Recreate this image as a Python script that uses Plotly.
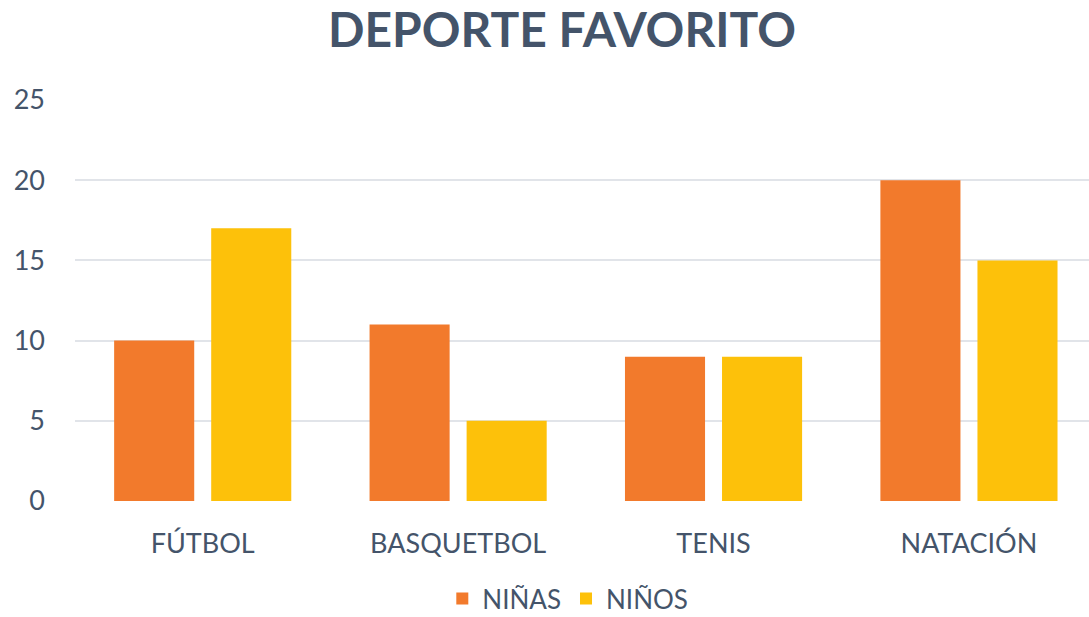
import plotly.graph_objects as go

categories = ["FÚTBOL", "BASQUETBOL", "TENIS", "NATACIÓN"]
ninas = [10, 11, 9, 20]
ninos = [17, 5, 9, 15]
y_ticks = [0, 5, 10, 15, 20, 25]

TXT = "#44546A"
FONT = "Lato, 'Open Sans', sans-serif"

fig = go.Figure()
fig.add_trace(go.Bar(name="NIÑAS", x=categories, y=ninas,
                     marker=dict(color="#F27A2C", line=dict(width=0))))
fig.add_trace(go.Bar(name="NIÑOS", x=categories, y=ninos,
                     marker=dict(color="#FDC10A", line=dict(width=0))))

fig.update_layout(
    width=1089, height=617,
    margin=dict(l=75, r=0, t=100, b=116, autoexpand=False),
    paper_bgcolor="white", plot_bgcolor="white",
    barmode="group", bargap=0.24, bargroupgap=0.175,
    title=dict(text="<b>DEPORTE FAVORITO</b>", x=0.516, xanchor="center",
               y=0.951, yanchor="middle",
               font=dict(family=FONT, size=48, color=TXT)),
    font=dict(family=FONT, color=TXT),
    xaxis=dict(range=[-0.5, 3.47], showgrid=False, showline=False, zeroline=False,
               tickfont=dict(size=27, color=TXT), ticks="", ticklabelstandoff=24),
    yaxis=dict(range=[0, 25], tickvals=y_ticks, showgrid=True, gridcolor="#E1E4E9",
               gridwidth=1.5, zeroline=False, showline=False,
               tickfont=dict(size=27, color=TXT), ticks="", ticklabelstandoff=29),
    legend=dict(orientation="h", x=0.486, xanchor="center", y=0.03, yanchor="middle",
                yref="container",
                font=dict(size=26, color=TXT), itemwidth=30, traceorder="normal"),
    showlegend=True,
)

fig.write_html("out.html")
